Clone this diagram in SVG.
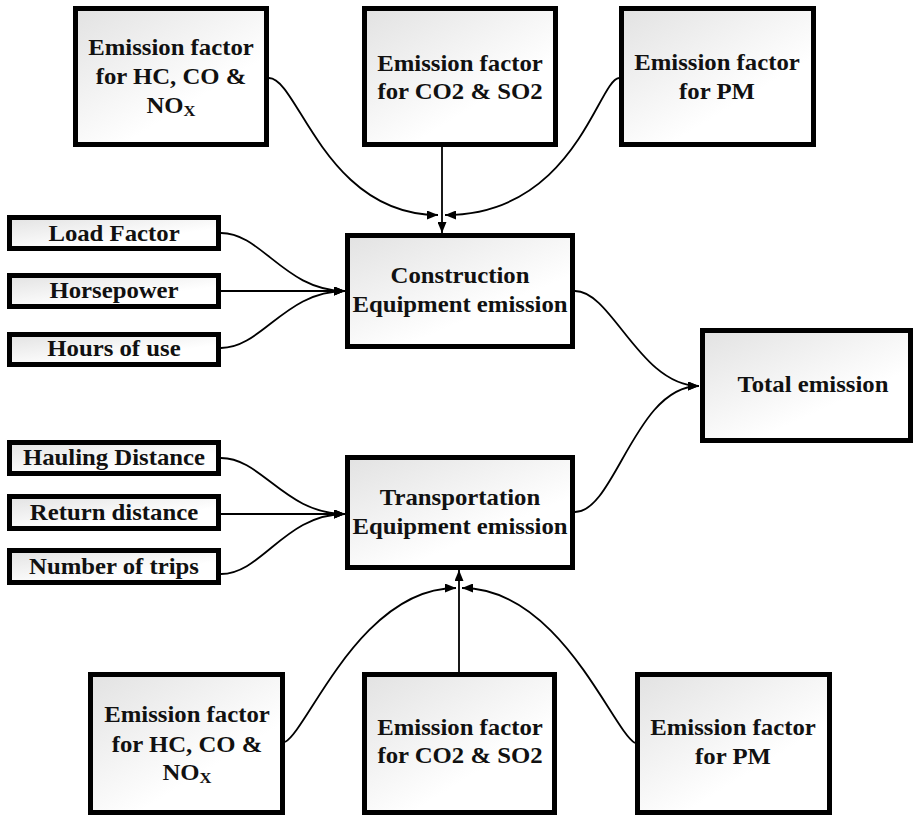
<svg xmlns="http://www.w3.org/2000/svg" width="917" height="816" viewBox="0 0 917 816">
<defs>
<linearGradient id="g" x1="0" y1="0" x2="0.6" y2="0.7">
<stop offset="0" stop-color="#e2e2e2"/>
<stop offset="1" stop-color="#ffffff"/>
</linearGradient>
<marker id="ah" markerUnits="userSpaceOnUse" markerWidth="11" markerHeight="9" refX="11" refY="4.5" orient="auto">
<path d="M0,0 L11,4.5 L0,9 z" fill="#000"/>
</marker>
<style>
rect.b{fill:url(#g);stroke:#000;stroke-width:5}
text{font-family:"Liberation Serif","Times New Roman",serif;font-weight:bold;font-size:22.5px;text-anchor:middle;fill:#111}
.c path{fill:none;stroke:#000;stroke-width:1.8}
</style>
</defs>
<rect width="917" height="816" fill="#fff"/>

<g id="ef-hc-top">
<rect class="b" x="75.5" y="8.5" width="191" height="136"/>
<text transform="translate(171,55) scale(1.1,1)">Emission factor</text>
<text transform="translate(171,84) scale(1.1,1)">for HC, CO &amp;</text>
<text transform="translate(171,113) scale(1.1,1)">NO<tspan font-size="15" dy="3">X</tspan></text>
</g>
<g id="ef-co2-top">
<rect class="b" x="364.5" y="8.5" width="191" height="136"/>
<text transform="translate(460,71) scale(1.1,1)">Emission factor</text>
<text transform="translate(460,99) scale(1.1,1)">for CO2 &amp; SO2</text>
</g>
<g id="ef-pm-top">
<rect class="b" x="621.5" y="8.5" width="192" height="136"/>
<text transform="translate(717,70) scale(1.1,1)">Emission factor</text>
<text transform="translate(717,99) scale(1.1,1)">for PM</text>
</g>

<g id="load-factor">
<rect class="b" x="9.5" y="217.5" width="209" height="31"/>
<text transform="translate(114,241) scale(1.1,1)">Load Factor</text>
</g>
<g id="horsepower">
<rect class="b" x="9.5" y="275.5" width="209" height="31"/>
<text transform="translate(114,298) scale(1.1,1)">Horsepower</text>
</g>
<g id="hours-of-use">
<rect class="b" x="9.5" y="334.5" width="209" height="30"/>
<text transform="translate(114,356) scale(1.1,1)">Hours of use</text>
</g>

<g id="construction">
<rect class="b" x="347.5" y="235.5" width="225" height="111"/>
<text transform="translate(460,283) scale(1.1,1)">Construction</text>
<text transform="translate(460,312) scale(1.1,1)">Equipment emission</text>
</g>

<g id="total">
<rect class="b" x="702.5" y="330.5" width="208" height="110"/>
<text transform="translate(813,392) scale(1.1,1)">Total emission</text>
</g>

<g id="hauling">
<rect class="b" x="9.5" y="442.5" width="209" height="31"/>
<text transform="translate(114,465) scale(1.1,1)">Hauling Distance</text>
</g>
<g id="return">
<rect class="b" x="9.5" y="496.5" width="209" height="32"/>
<text transform="translate(114,520) scale(1.1,1)">Return distance</text>
</g>
<g id="trips">
<rect class="b" x="9.5" y="550.5" width="209" height="32"/>
<text transform="translate(114,574) scale(1.1,1)">Number of trips</text>
</g>

<g id="transportation">
<rect class="b" x="347.5" y="457.5" width="225" height="110"/>
<text transform="translate(460,505) scale(1.1,1)">Transportation</text>
<text transform="translate(460,534) scale(1.1,1)">Equipment emission</text>
</g>

<g id="ef-hc-bot">
<rect class="b" x="90.5" y="674.5" width="192" height="138"/>
<text transform="translate(187,722) scale(1.1,1)">Emission factor</text>
<text transform="translate(187,752) scale(1.1,1)">for HC, CO &amp;</text>
<text transform="translate(187,780) scale(1.1,1)">NO<tspan font-size="15" dy="3">X</tspan></text>
</g>
<g id="ef-co2-bot">
<rect class="b" x="364.5" y="674.5" width="190" height="138"/>
<text transform="translate(460,735) scale(1.1,1)">Emission factor</text>
<text transform="translate(460,763) scale(1.1,1)">for CO2 &amp; SO2</text>
</g>
<g id="ef-pm-bot">
<rect class="b" x="637.5" y="674.5" width="192" height="138"/>
<text transform="translate(733,735) scale(1.1,1)">Emission factor</text>
<text transform="translate(733,764) scale(1.1,1)">for PM</text>
</g>

<g id="connectors" class="c">
<path d="M269,78 C298,78 325,215 438,215" marker-end="url(#ah)"/>
<path d="M442,147 L442,233" marker-end="url(#ah)"/>
<path d="M619,78 C598,80 575,215 445,215" marker-end="url(#ah)"/>
<path d="M221,233 C262,233 285,291 345,291" marker-end="url(#ah)"/>
<path d="M221,291 L345,291" marker-end="url(#ah)"/>
<path d="M221,348 C262,348 285,291 345,291" marker-end="url(#ah)"/>
<path d="M575,291 C612,291 640,386 699,386" marker-end="url(#ah)"/>
<path d="M575,512 C615,512 635,386 699,386" marker-end="url(#ah)"/>
<path d="M221,458 C262,458 285,514 345,514" marker-end="url(#ah)"/>
<path d="M221,514 L345,514" marker-end="url(#ah)"/>
<path d="M221,574 C262,574 285,514 345,514" marker-end="url(#ah)"/>
<path d="M285,742 C308,730 360,588 456,588" marker-end="url(#ah)"/>
<path d="M459,672 L459,570" marker-end="url(#ah)"/>
<path d="M635,743 C612,730 560,588 462,588" marker-end="url(#ah)"/>
</g>
</svg>
